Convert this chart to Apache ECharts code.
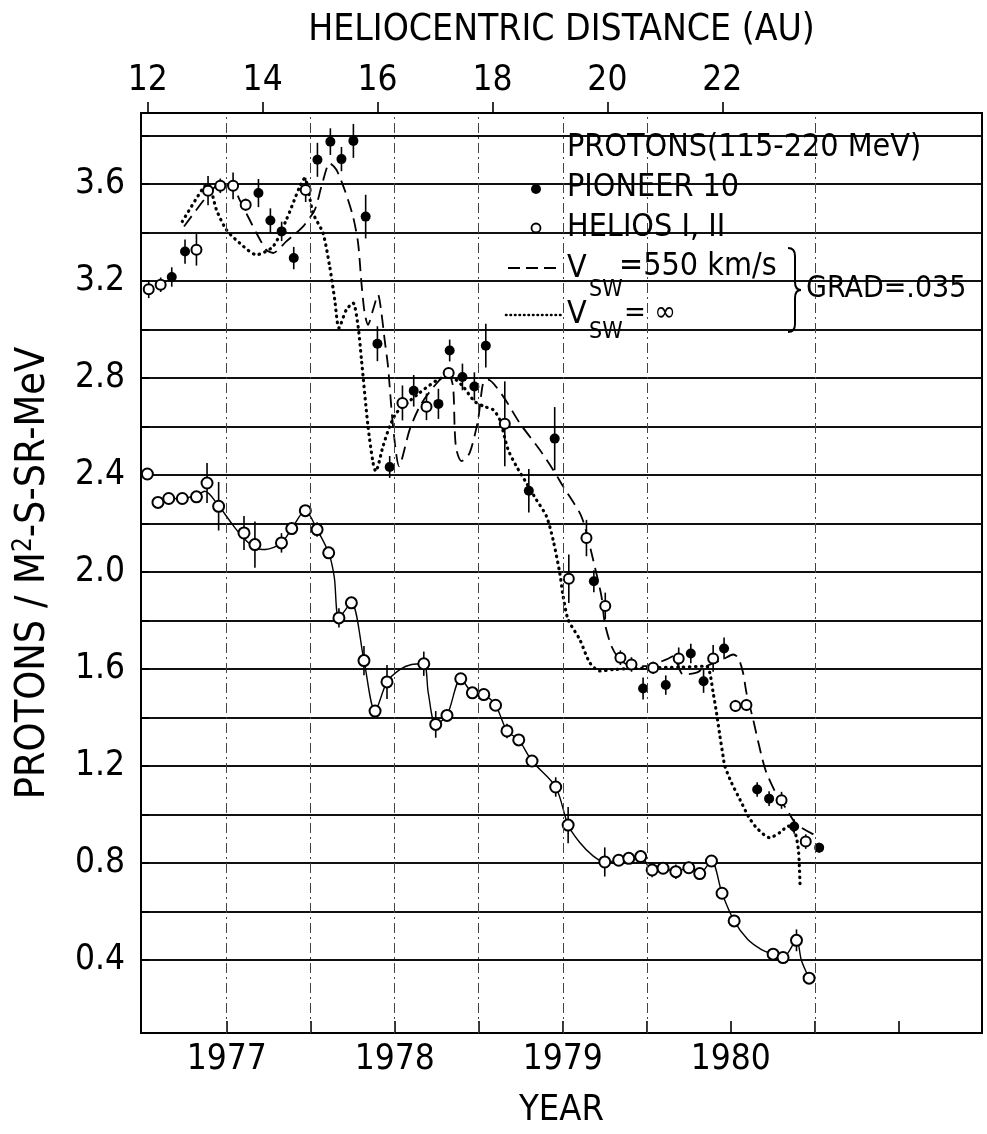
<!DOCTYPE html>
<html>
<head>
<meta charset="utf-8">
<script src="https://cdn.jsdelivr.net/npm/echarts@6/dist/echarts.min.js"></script>
<style>
html,body{margin:0;padding:0;background:#fff;}
#chart{width:987px;height:1134px;}
</style>
</head>
<body>
<div id="chart"></div>
<script>
// ---------- axis ticks ----------
const yearTicks = [1977, 1978, 1979, 1980];
const halfYearTicks = [1977, 1977.5, 1978, 1978.5, 1979, 1979.5, 1980, 1980.5, 1981];
const auTicks = [12, 14, 16, 18, 20, 22];
const fluxTicks = [0.4, 0.8, 1.2, 1.6, 2.0, 2.4, 2.8, 3.2, 3.6];
const fluxGrid = [0.4, 0.6, 0.8, 1.0, 1.2, 1.4, 1.6, 1.8, 2.0, 2.2, 2.4, 2.6, 2.8, 3.0, 3.2, 3.4, 3.6, 3.8];
const vGridYears = [1977, 1977.5, 1978, 1978.5, 1979, 1979.5, 1980.5];

// ---------- Pioneer 10 (filled) [year, flux, error] ----------
const pioneerFilled = [
  [1976.673, 3.216, 0.04], [1976.752, 3.321, 0.05], [1977.189, 3.562, 0.058],
  [1977.260, 3.449, 0.05], [1977.327, 3.404, 0.04], [1977.399, 3.294, 0.046],
  [1977.540, 3.699, 0.07], [1977.617, 3.774, 0.055], [1977.683, 3.702, 0.05],
  [1977.754, 3.777, 0.07], [1977.827, 3.465, 0.09], [1977.897, 2.941, 0.072],
  [1977.970, 2.433, 0.045], [1978.113, 2.747, 0.065], [1978.260, 2.693, 0.062],
  [1978.327, 2.913, 0.045], [1978.403, 2.804, 0.055], [1978.474, 2.765, 0.058],
  [1978.542, 2.933, 0.09], [1978.798, 2.335, 0.09], [1978.952, 2.550, 0.13],
  [1979.185, 1.962, 0.045], [1979.478, 1.520, 0.045], [1979.613, 1.534, 0.04],
  [1979.762, 1.664, 0.04], [1979.838, 1.550, 0.048], [1979.960, 1.685, 0.045],
  [1980.157, 1.104, 0.03], [1980.228, 1.066, 0.03], [1980.377, 0.951, 0.03],
  [1980.526, 0.864, 0.02]
];

// ---------- upper open marks [year, flux, error] ----------
const upperOpen = [
  [1976.536, 3.166, 0.037], [1976.607, 3.184, 0.03], [1976.820, 3.328, 0.065],
  [1976.889, 3.572, 0.06], [1976.962, 3.592, 0.03], [1977.038, 3.592, 0.055],
  [1977.113, 3.514, 0.025], [1977.470, 3.575, 0.05], [1978.046, 2.697, 0.072],
  [1978.189, 2.681, 0.055], [1978.321, 2.820, 0.015], [1978.655, 2.611, 0.175],
  [1979.036, 1.972, 0.1], [1979.141, 2.140, 0.075], [1979.253, 1.860, 0.055],
  [1979.343, 1.647, 0.03], [1979.409, 1.619, 0.03], [1979.538, 1.605, 0.025],
  [1979.690, 1.644, 0.045], [1979.895, 1.644, 0.055], [1980.028, 1.448, 0.025],
  [1980.093, 1.452, 0.025], [1980.302, 1.059, 0.035], [1980.446, 0.889, 0.03]
];

// ---------- Helios I, II (open) [year, flux, error] ----------
const helios = [
  [1976.528, 2.404, 0.015], [1976.591, 2.287, 0.02], [1976.655, 2.303, 0.015],
  [1976.736, 2.303, 0.01], [1976.820, 2.310, 0.02], [1976.883, 2.367, 0.082],
  [1976.952, 2.271, 0.1], [1977.103, 2.161, 0.07], [1977.168, 2.113, 0.095],
  [1977.326, 2.120, 0.04], [1977.387, 2.179, 0.02], [1977.468, 2.253, 0.015],
  [1977.538, 2.175, 0.03], [1977.607, 2.079, 0.025], [1977.668, 1.811, 0.04],
  [1977.742, 1.873, 0.015], [1977.817, 1.635, 0.06], [1977.883, 1.427, 0.025],
  [1977.954, 1.547, 0.07], [1978.173, 1.622, 0.05], [1978.244, 1.372, 0.055],
  [1978.311, 1.409, 0.02], [1978.393, 1.560, 0.02], [1978.462, 1.502, 0.01],
  [1978.530, 1.495, 0.01], [1978.600, 1.451, 0.01], [1978.668, 1.345, 0.03],
  [1978.738, 1.308, 0.015], [1978.817, 1.221, 0.01], [1978.958, 1.114, 0.04],
  [1979.032, 0.957, 0.075], [1979.250, 0.805, 0.06], [1979.333, 0.812, 0.02],
  [1979.393, 0.820, 0.015], [1979.464, 0.827, 0.025], [1979.532, 0.772, 0.03],
  [1979.597, 0.779, 0.02], [1979.673, 0.765, 0.03], [1979.750, 0.781, 0.025],
  [1979.815, 0.757, 0.02], [1979.885, 0.809, 0.02], [1979.948, 0.676, 0.01],
  [1980.020, 0.562, 0.01], [1980.252, 0.425, 0.02], [1980.311, 0.411, 0.02],
  [1980.391, 0.482, 0.045], [1980.466, 0.326, 0.02]
];

// ---------- hand-drawn curve through Helios points [year, flux] ----------
const heliosCurve = [
  [1976.591, 2.287], [1976.66, 2.30], [1976.74, 2.305], [1976.82, 2.315], [1976.87, 2.333],
  [1976.95, 2.275], [1977.03, 2.20], [1977.10, 2.14], [1977.17, 2.10], [1977.23, 2.093],
  [1977.326, 2.12], [1977.387, 2.179], [1977.468, 2.253], [1977.538, 2.175], [1977.607, 2.079],
  [1977.64, 1.98], [1977.668, 1.811], [1977.742, 1.873], [1977.817, 1.635], [1977.883, 1.427],
  [1977.954, 1.547], [1978.03, 1.598], [1978.10, 1.619], [1978.173, 1.622], [1978.20, 1.50],
  [1978.244, 1.372], [1978.311, 1.409], [1978.393, 1.560], [1978.462, 1.502], [1978.53, 1.495],
  [1978.60, 1.451], [1978.668, 1.345], [1978.738, 1.308], [1978.817, 1.221], [1978.958, 1.114],
  [1979.032, 0.957], [1979.10, 0.886], [1979.18, 0.830], [1979.25, 0.805], [1979.333, 0.812],
  [1979.393, 0.820], [1979.464, 0.827], [1979.532, 0.772], [1979.597, 0.779], [1979.673, 0.765],
  [1979.75, 0.781], [1979.815, 0.757], [1979.885, 0.809], [1979.948, 0.676], [1980.02, 0.562],
  [1980.10, 0.486], [1980.18, 0.445], [1980.252, 0.425], [1980.311, 0.411], [1980.391, 0.482],
  [1980.42, 0.40], [1980.466, 0.326]
];

// ---------- model, Vsw = 550 km/s (dashed) ----------
const modelV550 = [
  [1976.746, 3.424], [1976.889, 3.555], [1976.96, 3.600], [1977.037, 3.589], [1977.077, 3.534],
  [1977.177, 3.397], [1977.236, 3.328], [1977.276, 3.315], [1977.355, 3.363], [1977.454, 3.424],
  [1977.524, 3.493], [1977.564, 3.589], [1977.613, 3.685], [1977.653, 3.658], [1977.702, 3.575],
  [1977.752, 3.465], [1977.782, 3.356], [1977.802, 3.191], [1977.821, 3.067], [1977.841, 3.019],
  [1977.871, 3.081], [1977.901, 3.143], [1977.921, 3.067], [1977.940, 2.957], [1977.960, 2.848],
  [1977.990, 2.600], [1978.026, 2.436], [1978.089, 2.587], [1978.149, 2.683], [1978.218, 2.752],
  [1978.288, 2.806], [1978.318, 2.820], [1978.347, 2.765], [1978.357, 2.587], [1978.367, 2.504],
  [1978.397, 2.457], [1978.446, 2.491], [1978.496, 2.628], [1978.526, 2.779], [1978.555, 2.793],
  [1978.645, 2.724], [1978.744, 2.614], [1978.863, 2.504], [1978.942, 2.422], [1979.002, 2.353],
  [1979.101, 2.244], [1979.131, 2.189], [1979.190, 2.024], [1979.230, 1.901], [1979.250, 1.790],
  [1979.290, 1.694], [1979.339, 1.640], [1979.409, 1.612], [1979.498, 1.612], [1979.617, 1.640],
  [1979.657, 1.653], [1979.716, 1.578], [1979.796, 1.585], [1979.855, 1.612], [1979.954, 1.640],
  [1980.014, 1.660], [1980.044, 1.647], [1980.073, 1.585], [1980.093, 1.503], [1980.133, 1.392],
  [1980.183, 1.242], [1980.212, 1.173], [1980.272, 1.084], [1980.332, 1.022], [1980.391, 0.960],
  [1980.510, 0.912]
];

// ---------- model, Vsw = infinity (dotted) ----------
const modelVinf = [
  [1976.736, 3.445], [1976.859, 3.582], [1976.890, 3.600], [1976.939, 3.493], [1976.998, 3.411],
  [1977.077, 3.356], [1977.177, 3.308], [1977.276, 3.342], [1977.355, 3.452], [1977.435, 3.589],
  [1977.464, 3.623], [1977.514, 3.479], [1977.573, 3.397], [1977.613, 3.259], [1977.643, 3.122],
  [1977.668, 3.006], [1977.712, 3.081], [1977.752, 3.109], [1977.782, 3.012], [1977.802, 2.875],
  [1977.841, 2.600], [1977.871, 2.450], [1977.887, 2.415], [1977.930, 2.518], [1977.970, 2.600],
  [1978.010, 2.656], [1978.080, 2.700], [1978.150, 2.740], [1978.250, 2.790], [1978.320, 2.810],
  [1978.400, 2.770], [1978.474, 2.704], [1978.530, 2.683], [1978.585, 2.669], [1978.625, 2.628],
  [1978.675, 2.504], [1978.724, 2.436], [1978.784, 2.367], [1978.843, 2.298], [1978.903, 2.230],
  [1978.942, 2.134], [1978.982, 1.997], [1979.002, 1.901], [1979.032, 1.804], [1979.101, 1.722],
  [1979.161, 1.626], [1979.220, 1.592], [1979.300, 1.598], [1979.500, 1.605], [1979.700, 1.608],
  [1979.855, 1.612], [1979.875, 1.585], [1979.895, 1.503], [1979.915, 1.420], [1979.935, 1.325],
  [1979.954, 1.242], [1979.964, 1.201], [1980.004, 1.132], [1980.054, 1.063], [1980.104, 0.994],
  [1980.153, 0.946], [1980.232, 0.905], [1980.292, 0.926], [1980.342, 0.953], [1980.382, 0.926],
  [1980.402, 0.857], [1980.408, 0.788], [1980.412, 0.713]
];

// ---------- rendering ----------
const NARROW = "'Liberation Sans Narrow', 'DejaVu Sans Condensed', 'Liberation Sans', sans-serif";

function errorBars(data) {
  return {
    type: 'custom',
    data: data,
    encode: { x: 0, y: 1 },
    z: 3,
    silent: true,
    renderItem: function (params, api) {
      const x = api.value(0), y = api.value(1), e = api.value(2);
      const p1 = api.coord([x, y + e]);
      const p2 = api.coord([x, y - e]);
      return {
        type: 'line',
        shape: { x1: p1[0], y1: p1[1], x2: p2[0], y2: p2[1] },
        style: { stroke: '#000', lineWidth: 1.6 }
      };
    }
  };
}

const chart = echarts.init(document.getElementById('chart'), null, { renderer: 'canvas' });

const braceStyle = { stroke: '#000', lineWidth: 2, fill: null };
const legendFont = "32px " + NARROW;
const subFont = "23px " + NARROW;

const option = {
  animation: false,
  backgroundColor: '#fff',
  grid: { left: 141, right: 5, top: 113, bottom: 100, show: true, borderColor: '#000', borderWidth: 2, backgroundColor: 'transparent' },
  xAxis: [
    {
      type: 'value', position: 'bottom', min: 1976.49, max: 1981.495,
      name: 'YEAR', nameLocation: 'middle', nameGap: 60,
      nameTextStyle: { fontFamily: NARROW, fontSize: 36, color: '#000' },
      axisLine: { show: true, onZero: false, lineStyle: { color: '#000', width: 2 } },
      axisTick: { show: true, inside: true, length: 12, customValues: halfYearTicks, lineStyle: { color: '#000', width: 1.6 } },
      axisLabel: { customValues: yearTicks, formatter: v => String(v), fontFamily: NARROW, fontSize: 35, color: '#000', margin: 9 },
      splitLine: { show: false }
    },
    {
      type: 'value', position: 'top', min: 11.883, max: 26.52,
      name: 'HELIOCENTRIC DISTANCE (AU)', nameLocation: 'middle', nameGap: 64,
      nameTextStyle: { fontFamily: NARROW, fontSize: 37, color: '#000' },
      axisLine: { show: true, onZero: false, lineStyle: { color: '#000', width: 2 } },
      axisTick: { show: true, inside: false, length: 11, customValues: auTicks, lineStyle: { color: '#000', width: 1.6 } },
      axisLabel: { customValues: auTicks, formatter: v => String(v), fontFamily: NARROW, fontSize: 35, color: '#000', margin: 15 },
      splitLine: { show: false }
    }
  ],
  yAxis: [
    {
      type: 'value', min: 0.1, max: 3.892,
      name: 'PROTONS / M{sup|2}-S-SR-MeV', nameLocation: 'middle', nameGap: 86, nameRotate: 90,
      nameTextStyle: {
        fontFamily: NARROW, fontSize: 41, color: '#000',
        rich: { sup: { fontFamily: NARROW, fontSize: 26, color: '#000', padding: [0, 0, 18, 0] } }
      },
      axisLine: { show: true, onZero: false, lineStyle: { color: '#000', width: 2 } },
      axisTick: { show: true, inside: true, length: 8, customValues: fluxGrid, lineStyle: { color: '#000', width: 2 } },
      axisLabel: { customValues: fluxTicks, formatter: v => v.toFixed(1), fontFamily: NARROW, fontSize: 35, color: '#000', margin: 16 },
      splitLine: { show: true, lineStyle: { color: '#111', width: 2 } }
    }
  ],
  series: [
    {
      name: 'Helios curve', type: 'line', data: heliosCurve, smooth: 0.3, showSymbol: false, z: 2,
      lineStyle: { color: '#000', width: 1.4 },
      markLine: {
        silent: true, symbol: ['none', 'none'], label: { show: false },
        lineStyle: { color: '#444', width: 1, type: [10, 4, 2, 4] },
        data: vGridYears.map(v => ({ xAxis: v }))
      }
    },
    {
      name: 'Vsw=550', type: 'line', data: modelV550, smooth: 0.25, showSymbol: false, z: 2,
      lineStyle: { color: '#000', width: 1.8, type: [13, 7] }
    },
    {
      name: 'Vsw=inf', type: 'line', data: modelVinf, smooth: 0.25, showSymbol: false, z: 2,
      lineStyle: { color: '#000', width: 3.2, type: [0.5, 5.5], cap: 'round' }
    },
    errorBars(pioneerFilled),
    errorBars(upperOpen),
    errorBars(helios),
    {
      name: 'PIONEER 10', type: 'scatter', data: pioneerFilled, symbol: 'circle', symbolSize: 10, z: 4,
      itemStyle: { color: '#000', opacity: 1 }
    },
    {
      name: 'upper open', type: 'scatter', data: upperOpen, symbol: 'circle', symbolSize: 10, z: 4,
      itemStyle: { color: '#fff', borderColor: '#000', borderWidth: 2, opacity: 1 }
    },
    {
      name: 'HELIOS I, II', type: 'scatter', data: helios, symbol: 'circle', symbolSize: 11, z: 4,
      itemStyle: { color: '#fff', borderColor: '#000', borderWidth: 2, opacity: 1 }
    }
  ],
  graphic: {
    elements: [
      { type: 'text', x: 567, y: 148, z: 10, style: { text: 'PROTONS(115-220 MeV)', font: legendFont, fill: '#000', verticalAlign: 'middle', textVerticalAlign: 'middle' } },
      { type: 'circle', z: 10, shape: { cx: 536, cy: 189, r: 5 }, style: { fill: '#000' } },
      { type: 'text', x: 567, y: 188, z: 10, style: { text: 'PIONEER 10', font: legendFont, fill: '#000', verticalAlign: 'middle', textVerticalAlign: 'middle' } },
      { type: 'circle', z: 10, shape: { cx: 536, cy: 228, r: 4.5 }, style: { fill: '#fff', stroke: '#000', lineWidth: 1.8 } },
      { type: 'text', x: 567, y: 228, z: 10, style: { text: 'HELIOS I, II', font: legendFont, fill: '#000', verticalAlign: 'middle', textVerticalAlign: 'middle' } },
      { type: 'line', z: 10, shape: { x1: 508, y1: 268, x2: 562, y2: 268 }, style: { stroke: '#000', lineWidth: 1.8, lineDash: [12, 6] } },
      { type: 'text', x: 567, y: 269, z: 10, style: { text: 'V', font: legendFont, fill: '#000', verticalAlign: 'middle', textVerticalAlign: 'middle' } },
      { type: 'text', x: 589, y: 290, z: 10, style: { text: 'SW', font: subFont, fill: '#000', verticalAlign: 'middle', textVerticalAlign: 'middle' } },
      { type: 'text', x: 619, y: 267, z: 10, style: { text: '=550 km/s', font: legendFont, fill: '#000', verticalAlign: 'middle', textVerticalAlign: 'middle' } },
      { type: 'line', z: 10, shape: { x1: 506, y1: 315, x2: 562, y2: 315 }, style: { stroke: '#000', lineWidth: 2.6, lineDash: [0.5, 4], lineCap: 'round' } },
      { type: 'text', x: 567, y: 315, z: 10, style: { text: 'V', font: legendFont, fill: '#000', verticalAlign: 'middle', textVerticalAlign: 'middle' } },
      { type: 'text', x: 589, y: 332, z: 10, style: { text: 'SW', font: subFont, fill: '#000', verticalAlign: 'middle', textVerticalAlign: 'middle' } },
      { type: 'text', x: 624, y: 313, z: 10, style: { text: '= ∞', font: "29px " + NARROW, fill: '#000', verticalAlign: 'middle', textVerticalAlign: 'middle' } },
      { type: 'bezierCurve', z: 10, shape: { x1: 788, y1: 248, x2: 795, y2: 256, cpx1: 795, cpy1: 248 }, style: braceStyle },
      { type: 'line', z: 10, shape: { x1: 795, y1: 256, x2: 795, y2: 282 }, style: braceStyle },
      { type: 'bezierCurve', z: 10, shape: { x1: 795, y1: 282, x2: 801, y2: 290, cpx1: 795, cpy1: 290 }, style: braceStyle },
      { type: 'bezierCurve', z: 10, shape: { x1: 801, y1: 290, x2: 795, y2: 298, cpx1: 795, cpy1: 290 }, style: braceStyle },
      { type: 'line', z: 10, shape: { x1: 795, y1: 298, x2: 795, y2: 324 }, style: braceStyle },
      { type: 'bezierCurve', z: 10, shape: { x1: 795, y1: 324, x2: 788, y2: 332, cpx1: 795, cpy1: 332 }, style: braceStyle },
      { type: 'text', x: 806, y: 289, z: 10, style: { text: 'GRAD=.035', font: "30px " + NARROW, fill: '#000', verticalAlign: 'middle', textVerticalAlign: 'middle' } }
    ]
  }
};

chart.setOption(option);
</script>
</body>
</html>
